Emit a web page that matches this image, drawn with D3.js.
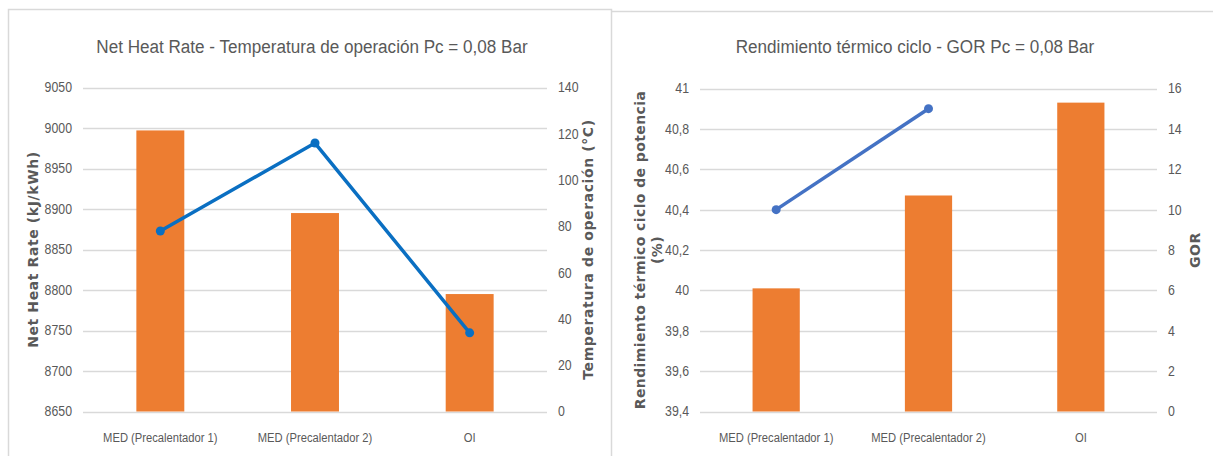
<!DOCTYPE html>
<html lang="es">
<head>
    <meta charset="UTF-8">
    <title>Net Heat Rate / Rendimiento - Pc = 0,08 Bar</title>
    <script src="https://d3js.org/d3.v7.min.js"></script>
    <style>
        body { margin: 0; background: #fff; }
        svg { display: block; }
        /* narrow look of the original (Calibri) -> Liberation Sans squeezed horizontally */
        .tick-label { font-family: "Liberation Sans", Arial, sans-serif; font-size: 14px; fill: #595959; }
        .cat-label { font-family: "Liberation Sans", Arial, sans-serif; font-size: 13.5px; fill: #595959; }
        .chart-title { font-family: "Liberation Sans", Arial, sans-serif; font-size: 19px; fill: #595959; }
        .axis-title { font-family: "DejaVu Sans", sans-serif; font-size: 14px; font-weight: bold; fill: #595959; letter-spacing: 0.6px; }
    </style>
</head>
<body>
<svg id="chart" width="1213" height="456"></svg>
<script>
    // ---- data ----
    const categories = ["MED (Precalentador 1)", "MED (Precalentador 2)", "OI"];

    // chart 1
    const netHeatRate = [8997, 8895, 8795];      // kJ/kWh (bars, left axis)
    const tempOperacion = [78, 116, 34];         // °C (line, right axis)
    const heatTicks = [8650, 8700, 8750, 8800, 8850, 8900, 8950, 9000, 9050];
    const tempTicks = [0, 20, 40, 60, 80, 100, 120, 140];

    // chart 2
    const rendimiento = [40.01, 40.47, 40.93];   // % (bars, left axis)
    const gor = [10, 15, null];                  // GOR (line, right axis)
    const rendTicks = [39.4, 39.6, 39.8, 40, 40.2, 40.4, 40.6, 40.8, 41];
    const gorTicks = [0, 2, 4, 6, 8, 10, 12, 14, 16];

    const svg = d3.select("#chart");
    const comma = v => String(+v.toFixed(2)).replace(".", ",");

    // panel frames (light grey borders like the Excel chart areas)
    svg.append("path")
        .attr("d", "M8.5,460 V9.5 H611.5 V460 M611.5,11.5 H1220")
        .attr("fill", "none")
        .attr("stroke", "#d9d9d9")
        .attr("stroke-width", 1.5);

    // put a text at (x, y) squeezed horizontally
    const squeeze = (x, y, k) => `translate(${x},${y}) scale(${k},1)`;

    function drawPanel(cfg) {
        const g = svg.append("g");

        const x = d3.scaleBand()
            .domain(categories)
            .range([cfg.x0, cfg.x1])
            .paddingInner(0.69)
            .paddingOuter(0.345);

        const yL = d3.scaleLinear().domain(d3.extent(cfg.leftTicks)).range([cfg.y1, cfg.y0]);
        const yR = d3.scaleLinear().domain(d3.extent(cfg.rightTicks)).range([cfg.y1, cfg.y0]);

        // gridlines
        g.append("g").selectAll("line")
            .data(cfg.leftTicks)
            .join("line")
            .attr("x1", cfg.x0).attr("x2", cfg.x1)
            .attr("y1", d => Math.round(yL(d)) + 0.5)
            .attr("y2", d => Math.round(yL(d)) + 0.5)
            .attr("stroke", "#d9d9d9")
            .attr("stroke-width", 1.3);

        // left tick labels
        g.append("g").selectAll("text")
            .data(cfg.leftTicks)
            .join("text")
            .attr("class", "tick-label")
            .attr("transform", d => squeeze(cfg.x0 - 11, yL(d), 0.88))
            .attr("dy", "0.35em")
            .attr("text-anchor", "end")
            .text(cfg.fmtLeft);

        // right tick labels
        g.append("g").selectAll("text")
            .data(cfg.rightTicks)
            .join("text")
            .attr("class", "tick-label")
            .attr("transform", d => squeeze(cfg.x1 + 11, yR(d), 0.88))
            .attr("dy", "0.35em")
            .attr("text-anchor", "start")
            .text(cfg.fmtRight);

        // bars
        g.append("g").selectAll("rect")
            .data(cfg.bars)
            .join("rect")
            .attr("x", (d, i) => x(categories[i]))
            .attr("width", x.bandwidth())
            .attr("y", d => yL(d))
            .attr("height", d => yL.range()[0] - yL(d))
            .attr("fill", "#ed7d31");

        // line + markers
        const pts = cfg.line.map((v, i) => ({ cat: categories[i], v: v })).filter(d => d.v != null);
        const cx = d => x(d.cat) + x.bandwidth() / 2;

        g.append("path")
            .datum(pts)
            .attr("fill", "none")
            .attr("stroke", cfg.lineColor)
            .attr("stroke-width", 3.5)
            .attr("stroke-linejoin", "round")
            .attr("d", d3.line().x(cx).y(d => yR(d.v)));

        g.append("g").selectAll("circle")
            .data(pts)
            .join("circle")
            .attr("cx", cx)
            .attr("cy", d => yR(d.v))
            .attr("r", 4.5)
            .attr("fill", cfg.lineColor);

        // category labels
        g.append("g").selectAll("text")
            .data(categories)
            .join("text")
            .attr("class", "cat-label")
            .attr("transform", d => squeeze(x(d) + x.bandwidth() / 2, 442, 0.83))
            .attr("text-anchor", "middle")
            .text(d => d);

        // chart title
        g.append("text")
            .attr("class", "chart-title")
            .attr("transform", squeeze(cfg.titleX, 53, 0.9))
            .attr("text-anchor", "middle")
            .text(cfg.title);

        // left axis title (may span several lines)
        const midY = (cfg.y0 + cfg.y1) / 2;
        const lt = g.append("text")
            .attr("class", "axis-title")
            .attr("transform", `translate(${cfg.leftTitleX},${midY}) rotate(-90)`)
            .attr("text-anchor", "middle")
            .style("letter-spacing", cfg.leftSpacing);
        cfg.leftTitle.forEach((s, i) => {
            lt.append("tspan").attr("x", 0).attr("dy", i === 0 ? 0 : "1.2em").text(s);
        });

        g.append("text")
            .attr("class", "axis-title")
            .attr("transform", `translate(${cfg.rightTitleX},${midY}) rotate(-90)`)
            .attr("text-anchor", "middle")
            .text(cfg.rightTitle);
    }

    drawPanel({
        x0: 83, x1: 547, y0: 87.5, y1: 411.5,
        leftTicks: heatTicks, rightTicks: tempTicks,
        fmtLeft: d => d, fmtRight: d => d,
        bars: netHeatRate, line: tempOperacion,
        lineColor: "#0a6fc2",
        title: "Net Heat Rate - Temperatura de operación Pc = 0,08 Bar",
        titleX: 312,
        leftTitle: ["Net Heat Rate (kJ/kWh)"], leftTitleX: 38, leftSpacing: "0.6px",
        rightTitle: "Temperatura de operación (°C)", rightTitleX: 593
    });

    drawPanel({
        x0: 700, x1: 1157, y0: 88.5, y1: 411.5,
        leftTicks: rendTicks, rightTicks: gorTicks,
        fmtLeft: comma, fmtRight: d => d,
        bars: rendimiento, line: gor,
        lineColor: "#4472c4",
        title: "Rendimiento térmico ciclo - GOR Pc = 0,08 Bar",
        titleX: 915,
        leftTitle: ["Rendimiento térmico ciclo de potencia", "(%)"], leftTitleX: 645, leftSpacing: "0.4px",
        rightTitle: "GOR", rightTitleX: 1200
    });
</script>
</body>
</html>
